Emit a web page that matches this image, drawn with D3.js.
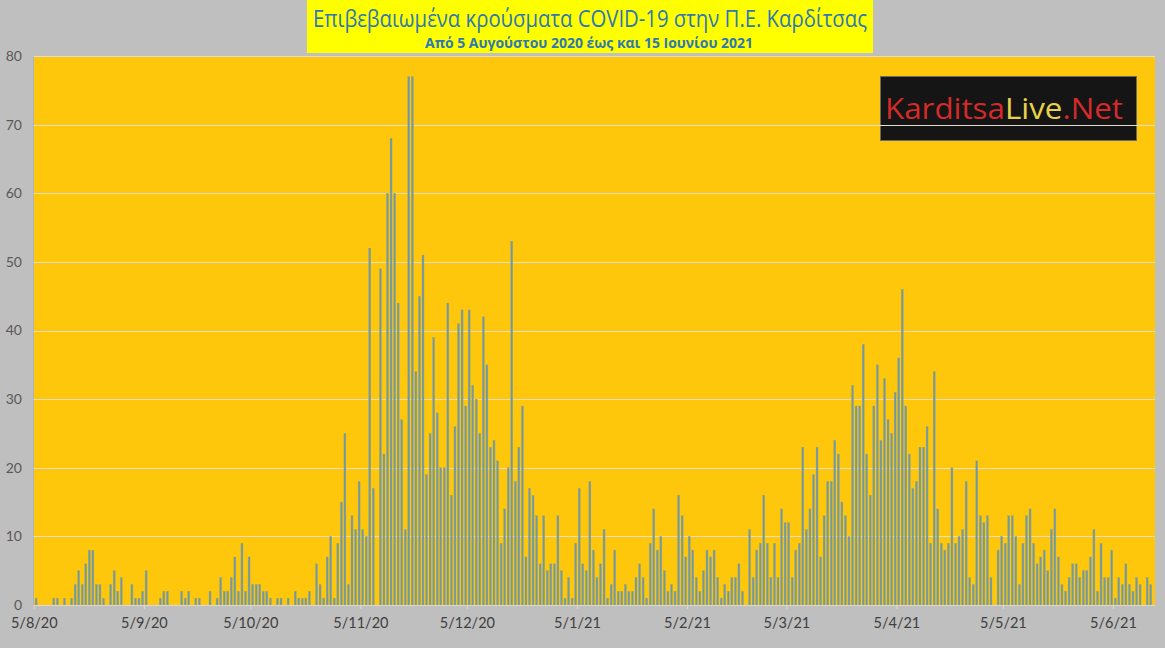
<!DOCTYPE html>
<html><head><meta charset="utf-8">
<script src="https://cdn.jsdelivr.net/npm/d3@7"></script>
<style>
html,body{margin:0;padding:0;background:#bfbfbf;}
svg{display:block;}
</style></head>
<body>
<svg id="chart" width="1165" height="648"></svg>
<script>
const titleText = "Επιβεβαιωμένα κρούσματα COVID-19 στην Π.Ε. Καρδίτσας";
const subtitleText = "Από 5 Αυγούστου 2020 έως και 15 Ιουνίου 2021";
const startDate = "2020-08-05";
const cases = [
 1,0,0,0,0,1,1,0,1,0, 1,3,5,3,6,8,8,3,3,1, 0,3,5,2,4,0,0,3,1,1, 2,5,0,0,0,1,2,2,0,0,
 0,2,1,2,0,1,1,0,0,2, 0,1,4,2,2,4,7,2,9,2, 7,3,3,3,2,2,1,0,1,1, 0,1,0,2,1,1,1,2,0,6,
 3,1,7,10,1,9,15,25,3,13, 11,18,11,10,52,17,0,49,22,60, 68,60,44,27,11,77,77,34,45,51,
 19,25,39,28,20,20,44,16,26,41, 43,29,43,32,30,25,42,35,23,24, 21,9,14,20,53,18,23,29,7,17,
 16,13,6,13,5,6,6,13,5,1, 4,1,9,17,6,5,18,8,4,6, 11,1,3,8,2,2,3,2,2,4, 6,4,1,9,14,8,10,5,2,3,
 2,16,13,7,10,8,4,2,5,8, 7,8,4,1,3,2,4,4,6,2, 0,11,4,8,9,16,9,4,9,4, 14,12,12,4,8,9,23,11,14,19,
 23,7,13,18,18,24,22,15,13,10, 32,29,29,38,22,16,29,35,24,33, 27,25,31,36,46,29,22,17,18,23,
 23,26,9,34,14,9,8,9,20,9, 10,11,18,4,3,21,13,12,13,4, 0,8,10,9,13,13,10,3,9,13,
 14,9,6,7,8,5,11,14,7,3, 2,4,6,6,4,5,5,7,11,2, 9,4,4,8,1,4,3,6,3,2, 4,3,0,4,3
];
const tickLabels = ["5/8/20","5/9/20","5/10/20","5/11/20","5/12/20","5/1/21","5/2/21","5/3/21","5/4/21","5/5/21","5/6/21"];
const yTicks = [0,10,20,30,40,50,60,70,80];

const fmt = d3.timeFormat("%-d/%-m/%y");
const start = d3.timeParse("%Y-%m-%d")(startDate);
const categories = cases.map((_, i) => fmt(d3.timeDay.offset(start, i)));

const svg = d3.select("#chart");
const W = 1165, H = 648;
const plot = {left: 33.5, right: 1155, top: 56, bottom: 605};

svg.append("rect").attr("width", W).attr("height", H).attr("fill", "#bfbfbf");

const x = d3.scaleBand().domain(categories).range([34.3, 1152.5]).padding(0);
const y = d3.scaleLinear().domain([0, 80]).range([plot.bottom, plot.top]);

// plot area
svg.append("rect").attr("x", plot.left).attr("y", plot.top)
  .attr("width", plot.right - plot.left).attr("height", plot.bottom - plot.top)
  .attr("fill", "#ffc70c");
svg.append("line").attr("x1", plot.left).attr("x2", plot.left)
  .attr("y1", plot.top).attr("y2", plot.bottom).attr("stroke", "#a9b4c0").attr("stroke-width", 1);

// logo (below gridlines)
const logo = svg.append("g");
logo.append("rect").attr("x", 880.5).attr("y", 76.5).attr("width", 256).attr("height", 64)
  .attr("fill", "#151515").attr("stroke", "#6a6a6a").attr("stroke-width", 1);
const lt = logo.append("text").attr("x", 1004).attr("y", 119).attr("text-anchor", "middle")
  .attr("font-family", "Open Sans, sans-serif").attr("font-size", 29)
  .attr("textLength", 238).attr("lengthAdjust", "spacingAndGlyphs");
lt.append("tspan").attr("fill", "#d42a2a").text("Karditsa");
lt.append("tspan").attr("fill", "#e8d24a").text("Live");
lt.append("tspan").attr("fill", "#d42a2a").text(".Net");

// gridlines
svg.append("g").selectAll("line").data(yTicks.filter(d => d > 0)).join("line")
  .attr("x1", plot.left).attr("x2", plot.right)
  .attr("y1", d => Math.round(y(d)) + 0.5).attr("y2", d => Math.round(y(d)) + 0.5)
  .attr("stroke", "#e6dccb").attr("stroke-width", 1);

// bars
svg.append("g").selectAll("rect").data(cases.map((v, i) => ({c: categories[i], v})))
  .join("rect")
  .attr("x", d => x(d.c) + x.bandwidth() / 2 - 1)
  .attr("width", 2)
  .attr("y", d => y(d.v))
  .attr("height", d => y(0) - y(d.v))
  .attr("fill", "#7097aa")
  .attr("stroke", "#a4aa62").attr("stroke-width", 0.4);

// x axis
const xAxis = d3.axisBottom(x).tickValues(tickLabels).tickSize(4).tickSizeOuter(0);
const gx = svg.append("g").attr("transform", `translate(${-x.bandwidth() / 2},${plot.bottom})`).call(xAxis);
gx.select(".domain").remove();
gx.selectAll(".tick line").attr("stroke", "#d9d9d9");
gx.selectAll(".tick text").attr("dy", null).attr("y", 23)
  .attr("font-family", "Lato, Open Sans, sans-serif").attr("font-size", 14.5).attr("fill", "#404040");
svg.append("line").attr("x1", plot.left).attr("x2", plot.right)
  .attr("y1", plot.bottom + 0.5).attr("y2", plot.bottom + 0.5).attr("stroke", "#d9d9d9");

// y axis labels
const yAxis = d3.axisLeft(y).tickValues(yTicks).tickSize(0).tickPadding(0);
const gy = svg.append("g").attr("transform", `translate(22,0)`).call(yAxis);
gy.select(".domain").remove();
gy.selectAll(".tick text").attr("font-family", "Lato, Open Sans, sans-serif")
  .attr("font-size", 14).attr("fill", "#595959");

// title box
svg.append("rect").attr("x", 307).attr("y", 0).attr("width", 566).attr("height", 53).attr("fill", "#ffff00");
svg.append("text").attr("x", 590).attr("y", 27).attr("text-anchor", "middle")
  .attr("font-family", "Open Sans, sans-serif").attr("font-size", 23).attr("fill", "#2e78b4")
  .attr("textLength", 554).attr("lengthAdjust", "spacingAndGlyphs").text(titleText);
svg.append("text").attr("x", 589).attr("y", 47.5).attr("text-anchor", "middle")
  .attr("font-family", "Open Sans, sans-serif").attr("font-size", 14).attr("font-weight", "bold").attr("fill", "#2e78b4")
  .attr("textLength", 328).attr("lengthAdjust", "spacingAndGlyphs").text(subtitleText);
</script>
</body></html>
